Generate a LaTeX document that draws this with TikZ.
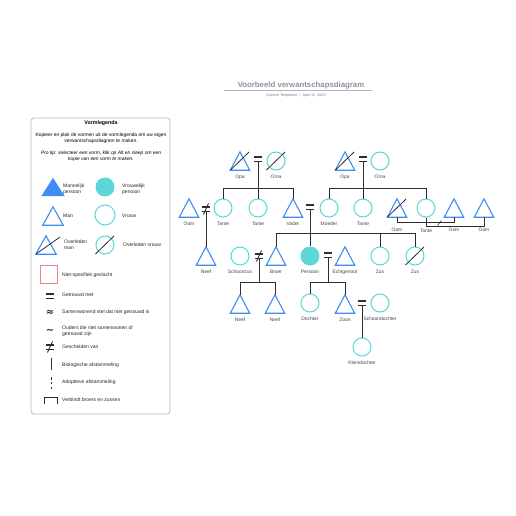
\documentclass[tikz,border=0pt]{standalone}
\usepackage{fontspec}
\setmainfont{Liberation Sans}
\newfontfamily\symfont{DejaVu Sans}
\usetikzlibrary{calc}
\definecolor{maleblue}{RGB}{64,140,245}
\definecolor{femteal}{RGB}{92,214,216}
\definecolor{linegray}{RGB}{45,45,45}
\definecolor{labgray}{RGB}{70,70,70}
\definecolor{titlegray}{RGB}{135,147,162}
\definecolor{boxgray}{RGB}{185,185,185}
\definecolor{nsred}{RGB}{238,130,130}
\tikzset{
  lab/.style={font=\fontsize{4.9}{5}\selectfont, text=labgray, text height=3.4pt, text depth=0.8pt, inner sep=0pt},
  legtxt/.style={font=\fontsize{5}{6}\selectfont, text=black!85, inner sep=0pt, align=left, anchor=west},
  mbox/.style={minimum width=19pt, minimum height=18pt, inner sep=0pt},
  mline/.style={draw=maleblue, line width=1.1pt},
  fbox/.style={circle, minimum size=18pt, inner sep=0pt, draw=femteal, line width=1pt},
  ffill/.style={circle, minimum size=19pt, inner sep=0pt, fill=femteal},
  deadline/.style={draw=linegray, line width=0.8pt},
  eqbox/.style={minimum width=8pt, minimum height=4.4pt, inner sep=0pt},
  eqline/.style={draw=linegray, line width=1.8pt},
  conn/.style={draw=linegray, line width=0.9pt},
  symtxt/.style={font=\symfont\bfseries\fontsize{10}{10}\selectfont, text=linegray, inner sep=0pt},
}
\newcommand{\pMale}[3][]{\node[mbox,#1] (#2) at #3 {};
  \draw[mline] (#2.north) -- (#2.south east) -- (#2.south west) -- cycle;}
\newcommand{\pFemale}[3][]{\node[fbox,#1] (#2) at #3 {};}
\newcommand{\pDead}[1]{\draw[deadline] ($(#1.center)+(-9.5,9)$) -- ($(#1.center)+(9,-9)$);}
\newcommand{\pEq}[2]{\node[eqbox] (#1) at #2 {};
  \draw[eqline] (#1.north west) -- (#1.north east) (#1.south west) -- (#1.south east);}
\newcommand{\pNeq}[2]{\pEq{#1}{#2}
  \draw[deadline, line width=0.9pt] ($(#1.center)+(-2.5,5.5)$) -- ($(#1.center)+(2.5,-5.5)$);}
\begin{document}
\begin{tikzpicture}[x=1pt, y=-1pt, label distance=4.3pt]
\useasboundingbox[fill=white] (0,0) rectangle (516,516);

% title
\node[font=\bfseries\fontsize{7.8}{8}\selectfont, text=titlegray, inner sep=0pt] (title) at (301,86) {Voorbeeld verwantschapsdiagram};
\draw[gray!60, line width=0.7pt] (224,90) -- (372,90);
\node[font=\fontsize{3.8}{4}\selectfont, text=gray, inner sep=0pt] (sub) at (296,96) {System Templates \ | \ April 11, 2023};

% legend
\draw[boxgray, line width=0.8pt, rounded corners=3pt] (31,118) rectangle (170,414);
\node[font=\bfseries\fontsize{5.3}{6}\selectfont, inner sep=0pt] (lgtitle) at (101,123) {Vormlegenda};
\node[font=\fontsize{4.9}{5.6}\selectfont, align=center, inner sep=0pt] (lgintro) at (101,138.5) {Kopieer en plak de vormen uit de vormlegenda om uw eigen\\verwantschapsdiagram te maken.};
\node[font=\itshape\fontsize{4.9}{5.6}\selectfont, align=center, inner sep=0pt] (lgtip) at (101,156.5) {Pro tip: selecteer een vorm, klik op Alt en sleep om een\\kopie van een vorm te maken.};

\node[minimum width=23pt, minimum height=18pt, inner sep=0pt] (lgm) at (53,187) {};
\fill[maleblue] (lgm.north) -- (lgm.south east) -- (lgm.south west) -- cycle;
\node[legtxt] (lgmt) at (63,189) {Mannelijk\\persoon};
\node[ffill] (lgf) at (105,187) {};
\node[legtxt] (lgft) at (122,189) {Vrouwelijk\\persoon};
\pMale[minimum width=20pt]{lgman}{(53,216)}
\node[legtxt] (lgmant) at (63,216) {Man};
\pFemale[minimum size=20pt]{lgv}{(105,215)}
\node[legtxt] (lgvt) at (122,216) {Vrouw};
\pMale[minimum width=20pt]{lgdm}{(46,245)}
\draw[deadline] ($(lgdm.center)+(-10,9)$) -- ($(lgdm.center)+(14,-8)$);
\node[legtxt] (lgdmt) at (64,245) {Overleden\\man};
\pFemale{lgdv}{(105,245)}
\pDead{lgdv}
\node[legtxt] (lgdvt) at (123,245) {Overleden vrouw};

\node[draw=nsred, line width=0.8pt, minimum width=17pt, minimum height=18pt, inner sep=0pt] (lgns) at (48.5,274) {};
\node[legtxt] (lgnst) at (62,275) {Niet-specifiek geslacht};
\pEq{lgeq}{(50,296)}
\node[legtxt] (lgeqt) at (62,295) {Getrouwd met};
\node[symtxt] (lgapx) at (50,313) {≈};
\node[legtxt] (lgapxt) at (62,312) {Samenwonend stel dat niet getrouwd is};
\node[symtxt] (lgtil) at (50,331) {\textasciitilde};
\node[legtxt] (lgtilt) at (62,331) {Ouders die niet samenwonen of\\getrouwd zijn};
\pNeq{lgneq}{(50,347)}
\node[legtxt] (lgneqt) at (62,347) {Gescheiden van};
\coordinate (lgb1) at (51,358);
\coordinate (lgb2) at (51,370);
\draw[conn] (lgb1) -- (lgb2);
\node[legtxt] (lgbt) at (62,365) {Biologische afstammeling};
\coordinate (lga1) at (51,377);
\coordinate (lga2) at (51,389);
\draw[conn, dash pattern=on 2.6pt off 2.2pt] (lga1) -- (lga2);
\node[legtxt] (lgat) at (62,382) {Adoptieve afstammeling};
\draw[conn] (44,404) -- (44,397) -- (57,397) -- (57,404);
\node[legtxt] (lgst) at (62,400) {Verbindt broers en zussen};

% row 0
\pMale[label={[lab]below:Opa}]{opaL}{(240,161)} \pDead{opaL}
\pEq{m1}{(258,159)}
\pFemale[label={[lab]below:Oma}]{omaL}{(276,161)} \pDead{omaL}
\pMale[label={[lab]below:Opa}]{opaR}{(345,161)} \pDead{opaR}
\pEq{m2}{(363,159)}
\pFemale[label={[lab]below:Oma}]{omaR}{(380,161)}

% row 1
\pMale[label={[lab]below:Oom}]{oomL}{(189,208)}
\pNeq{d1}{(206,209)}
\pFemale[label={[lab]below:Tante}]{tanteLa}{(223,208)}
\pFemale[label={[lab]below:Tante}]{tanteLb}{(258,208)}
\pMale[label={[lab]below:Vader}]{vader}{(293,208)}
\pEq{m3}{(310,207)}
\pFemale[label={[lab]below:Moeder}]{moeder}{(329,208)}
\pFemale[label={[lab]below:Tante}]{tanteRa}{(363,208)}
\pMale[label={[lab,label distance=11pt]below:Oom}]{oomD}{(397,208)} \pDead{oomD}
\pFemale[label={[lab,label distance=11pt]below:Tante}]{tanteRb}{(426,208)}
\pMale[label={[lab,label distance=11pt]below:Oom}]{oomRa}{(454,208)}
\pMale[label={[lab,label distance=11pt]below:Oom}]{oomRb}{(484,208)}

% row 2
\pMale[label={[lab]below:Neef}]{neefL}{(206,256)}
\pFemale[label={[lab]below:Schoonzus}]{schoonzus}{(240,256)}
\pNeq{d2}{(259,256)}
\pMale[label={[lab]below:Broer}]{broer}{(276,256)}
\node[ffill, label={[lab,label distance=4pt]below:Persoon}] (persoon) at (310,256) {};
\pEq{m4}{(328,255)}
\pMale[label={[lab]below:Echtgenoot}]{echtgenoot}{(345,256)}
\pFemale[label={[lab]below:Zus}]{zusa}{(380,256)}
\pFemale[label={[lab]below:Zus}]{zusb}{(415,256)} \pDead{zusb}

% row 3
\pMale[label={[lab]below:Neef}]{neefa}{(240,304)}
\pMale[label={[lab]below:Neef}]{neefb}{(275,304)}
\pFemale[label={[lab]below:Dochter}]{dochter}{(310,303)}
\pMale[label={[lab]below:Zoon}]{zoon}{(345,304)}
\pEq{m5}{(362,303)}
\pFemale[label={[lab]below:Schoondochter}]{schoondochter}{(380,303)}

% row 4
\pFemale[label={[lab]below:Kleindochter}]{kleindochter}{(362,347)}

% connectors
\coordinate (j1) at (258,188);
\draw[conn] (m1.south) -- (tanteLb.north);
\draw[conn] (tanteLa.north) -- (tanteLa.north |- j1) -- (vader.north |- j1) -- (vader.north);
\coordinate (j2) at (363,188);
\draw[conn] (m2.south) -- (tanteRa.north);
\draw[conn] (moeder.north) -- (moeder.north |- j2) -- (tanteRb.north |- j2) -- (tanteRb.north);
\draw[conn] (d1.south) -- (neefL.north);
\coordinate (j3) at (310,233);
\draw[conn] (m3.south) -- (persoon.north);
\draw[conn] (broer.north) -- (broer.north |- j3) -- (zusb.north |- j3) -- (zusb.north);
\draw[conn] (zusa.north) -- (zusa.north |- j3);
\coordinate (j4) at (259,282);
\draw[conn] (d2.south) -- (j4);
\draw[conn] (neefa.north) -- (neefa.north |- j4) -- (neefb.north |- j4) -- (neefb.north);
\coordinate (j5) at (328,282);
\draw[conn] (m4.south) -- (j5);
\draw[conn] (dochter.north) -- (dochter.north |- j5) -- (zoon.north |- j5) -- (zoon.north);
\draw[conn] (m5.south) -- (kleindochter.north);
\coordinate (j6) at (397,222);
\draw[conn] (oomD.south) -- (oomD.south |- j6) -- (oomRa.south |- j6) -- (oomRa.south);
\coordinate (j7) at (426,226);
\draw[conn] (tanteRb.south) -- (tanteRb.south |- j7) -- (oomRb.south |- j7) -- (oomRb.south);
\draw[conn, line width=0.6pt] (437.5,225.5) -- (441.5,220.5);
\end{tikzpicture}
\end{document}
